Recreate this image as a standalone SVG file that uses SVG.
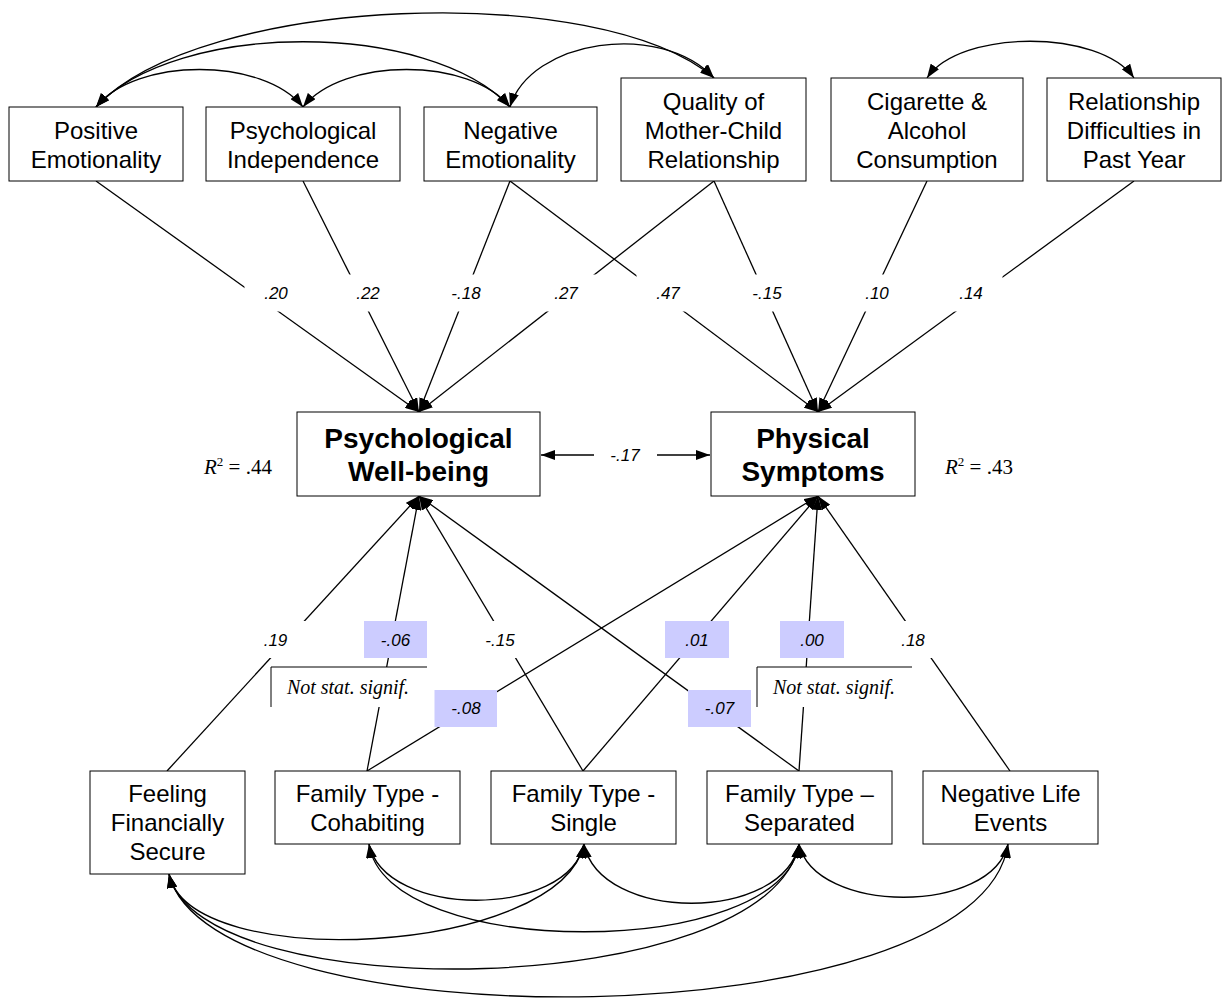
<svg xmlns="http://www.w3.org/2000/svg" width="1224" height="999" viewBox="0 0 1224 999">
<defs>
<marker id="ah" viewBox="0 0 14 10" refX="14" refY="5" markerWidth="14" markerHeight="10" markerUnits="userSpaceOnUse" orient="auto-start-reverse">
<path d="M0,0 L14,5 L0,10 z" fill="#000"/>
</marker>
<style>
.box{fill:#fff;stroke:#000;stroke-width:1}
.t{font-family:"Liberation Sans",Arial,sans-serif;font-size:24px;text-anchor:middle;fill:#000}
.b{font-family:"Liberation Sans",Arial,sans-serif;font-size:28px;font-weight:bold;text-anchor:middle;fill:#000}
.c{font-family:"Liberation Sans",Arial,sans-serif;font-size:17px;font-style:italic;text-anchor:middle;fill:#000}
.s{font-family:"Liberation Serif","Times New Roman",serif;font-size:21px;fill:#000}
.ns{font-family:"Liberation Serif","Times New Roman",serif;font-size:20px;font-style:italic;text-anchor:middle;fill:#000}
#connectors line,#connectors path{stroke:#000;stroke-width:1.3;fill:none}
.a{marker-end:url(#ah)}
.d{marker-start:url(#ah);marker-end:url(#ah)}
.wb{fill:#fff;stroke:none}
.pb{fill:#ccccff;stroke:none}
</style>
</defs>
<rect width="1224" height="999" fill="#fff"/>

<g id="connectors">
<!-- top covariances -->
<path class="d" d="M96,107 C136,57 263,57 303,107"/>
<path class="d" d="M96,107 C176,20 430,20 510,107"/>
<path class="d" d="M96,107 C200,-5 600,-20 714,78"/>
<path class="d" d="M303,107 C343,57 470,57 510,107"/>
<path class="d" d="M510,107 C530,40 660,20 714,78"/>
<path class="d" d="M927,78 C960,29 1100,29 1134,78"/>
<!-- top paths -->
<line class="a" x1="96" y1="181" x2="419" y2="412"/>
<line class="a" x1="303" y1="181" x2="419" y2="412"/>
<line class="a" x1="510" y1="181" x2="419" y2="412"/>
<line class="a" x1="714" y1="181" x2="419" y2="412"/>
<line class="a" x1="510" y1="181" x2="818" y2="412"/>
<line class="a" x1="714" y1="181" x2="818" y2="412"/>
<line class="a" x1="927" y1="181" x2="818" y2="412"/>
<line class="a" x1="1134" y1="181" x2="818" y2="412"/>
<!-- correlation between outcomes -->
<line class="a" x1="594" y1="455" x2="541" y2="455"/>
<line class="a" x1="657" y1="455" x2="710" y2="455"/>
<!-- bottom paths -->
<line class="a" x1="167" y1="771" x2="419" y2="496"/>
<line class="a" x1="367" y1="771" x2="419" y2="496"/>
<line class="a" x1="583" y1="771" x2="419" y2="496"/>
<line class="a" x1="799" y1="771" x2="419" y2="496"/>
<line class="a" x1="367" y1="771" x2="818" y2="496"/>
<line class="a" x1="583" y1="771" x2="818" y2="496"/>
<line class="a" x1="799" y1="771" x2="818" y2="496"/>
<line class="a" x1="1010" y1="771" x2="818" y2="496"/>
<!-- bottom covariances -->
<path class="d" d="M369,844 C385,919 568,919 584,844"/>
<path class="d" d="M584,844 C600,923 783,923 799,844"/>
<path class="d" d="M799,844 C815,915 992,915 1008,844"/>
<path class="d" d="M369,844 C385,961 783,961 799,844"/>
<path class="d" d="M169,874 C190,975 560,955 584,844"/>
<path class="d" d="M169,874 C200,1010 770,1000 799,844"/>
<path class="d" d="M169,874 C210,1045 980,1040 1008,844"/>
</g>

<g id="labels">
<rect class="wb" x="244.5" y="274.5" width="63" height="37"/>
<rect class="wb" x="336.5" y="274.5" width="63" height="37"/>
<rect class="wb" x="434.5" y="274.5" width="63" height="37"/>
<rect class="wb" x="534.5" y="274.5" width="63" height="37"/>
<rect class="wb" x="636.5" y="274.5" width="63" height="37"/>
<rect class="wb" x="735.5" y="274.5" width="63" height="37"/>
<rect class="wb" x="845.5" y="274.5" width="63" height="37"/>
<rect class="wb" x="939.5" y="274.5" width="63" height="37"/>
<text class="c" x="276" y="299">.20</text>
<text class="c" x="368" y="299">.22</text>
<text class="c" x="466" y="299">-.18</text>
<text class="c" x="566" y="299">.27</text>
<text class="c" x="668" y="299">.47</text>
<text class="c" x="767" y="299">-.15</text>
<text class="c" x="877" y="299">.10</text>
<text class="c" x="971" y="299">.14</text>

<text class="c" x="625" y="461">-.17</text>
<text class="s" x="204" y="474"><tspan font-style="italic">R</tspan><tspan dy="-8" font-size="13">2</tspan><tspan dy="8"> = .44</tspan></text>
<text class="s" x="945" y="474"><tspan font-style="italic">R</tspan><tspan dy="-8" font-size="13">2</tspan><tspan dy="8"> = .43</tspan></text>

<rect class="wb" x="244" y="621" width="63" height="37"/>
<rect class="wb" x="468.5" y="621" width="63" height="37"/>
<rect class="wb" x="881.5" y="621" width="63" height="37"/>
<rect class="pb" x="364" y="621" width="63" height="37"/>
<rect class="pb" x="665" y="621" width="64" height="37"/>
<rect class="pb" x="780" y="621" width="64" height="37"/>
<rect class="pb" x="434.5" y="690" width="62.5" height="37"/>
<rect class="pb" x="688" y="690" width="63" height="37"/>
<text class="c" x="275.5" y="646">.19</text>
<text class="c" x="395.5" y="646">-.06</text>
<text class="c" x="500" y="646">-.15</text>
<text class="c" x="697" y="646">.01</text>
<text class="c" x="812" y="646">.00</text>
<text class="c" x="913" y="646">.18</text>
<text class="c" x="466" y="714">-.08</text>
<text class="c" x="719.5" y="714">-.07</text>

<rect class="wb" x="271" y="667" width="156" height="40"/>
<path d="M271,707 V667 H427" fill="none" stroke="#000" stroke-width="1"/>
<text class="ns" x="348" y="694">Not stat. signif.</text>
<rect class="wb" x="757" y="667" width="155" height="40"/>
<path d="M757,707 V667 H912" fill="none" stroke="#000" stroke-width="1"/>
<text class="ns" x="834" y="694">Not stat. signif.</text>
</g>

<g id="n-positive"><rect class="box" x="9" y="107" width="174" height="74"/><text class="t" x="96" y="139">Positive</text><text class="t" x="96" y="168">Emotionality</text></g>
<g id="n-psychindep"><rect class="box" x="206" y="107" width="194" height="74"/><text class="t" x="303" y="139">Psychological</text><text class="t" x="303" y="168">Independence</text></g>
<g id="n-negative"><rect class="box" x="424" y="107" width="173" height="74"/><text class="t" x="510.5" y="139">Negative</text><text class="t" x="510.5" y="168">Emotionality</text></g>
<g id="n-quality"><rect class="box" x="621" y="78" width="185" height="103"/><text class="t" x="713.5" y="110">Quality of</text><text class="t" x="713.5" y="139">Mother-Child</text><text class="t" x="713.5" y="168">Relationship</text></g>
<g id="n-cigarette"><rect class="box" x="831" y="78" width="192" height="103"/><text class="t" x="927" y="110">Cigarette &amp;</text><text class="t" x="927" y="139">Alcohol</text><text class="t" x="927" y="168">Consumption</text></g>
<g id="n-reldiff"><rect class="box" x="1047" y="78" width="174" height="103"/><text class="t" x="1134" y="110">Relationship</text><text class="t" x="1134" y="139">Difficulties in</text><text class="t" x="1134" y="168">Past Year</text></g>

<g id="n-pwb"><rect class="box" x="297" y="412" width="243" height="84"/><text class="b" x="418.5" y="448">Psychological</text><text class="b" x="418.5" y="481">Well-being</text></g>
<g id="n-ps"><rect class="box" x="711" y="412" width="204" height="84"/><text class="b" x="813" y="448">Physical</text><text class="b" x="813" y="481">Symptoms</text></g>

<g id="n-ffs"><rect class="box" x="90" y="771" width="155" height="103"/><text class="t" x="167.5" y="802">Feeling</text><text class="t" x="167.5" y="831">Financially</text><text class="t" x="167.5" y="860">Secure</text></g>
<g id="n-cohab"><rect class="box" x="275" y="771" width="185" height="73"/><text class="t" x="367.5" y="802">Family Type -</text><text class="t" x="367.5" y="831">Cohabiting</text></g>
<g id="n-single"><rect class="box" x="491" y="771" width="185" height="73"/><text class="t" x="583.5" y="802">Family Type -</text><text class="t" x="583.5" y="831">Single</text></g>
<g id="n-separated"><rect class="box" x="707" y="771" width="185" height="73"/><text class="t" x="799.5" y="802">Family Type –</text><text class="t" x="799.5" y="831">Separated</text></g>
<g id="n-nle"><rect class="box" x="923" y="771" width="175" height="73"/><text class="t" x="1010.5" y="802">Negative Life</text><text class="t" x="1010.5" y="831">Events</text></g>
</svg>
